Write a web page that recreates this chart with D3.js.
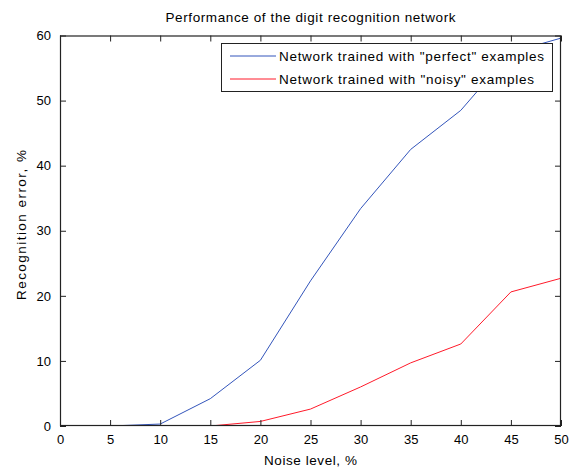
<!DOCTYPE html>
<html><head><meta charset="utf-8">
<script src="https://cdn.jsdelivr.net/npm/d3@7"></script>
<style>
html,body{margin:0;padding:0;background:#fff;}
text{font-family:"Liberation Sans",Arial,sans-serif;fill:#000;}
</style></head>
<body><svg id="c" width="573" height="469"></svg>
<script>
const title = "Performance of the digit recognition network";
const xLabel = "Noise level, %";
const yLabel = "Recognition error, %";
const noiseLevels = [0, 5, 10, 15, 20, 25, 30, 35, 40, 45, 50];
const perfectErr = [0, 0, 0.3, 4.2, 10.1, 22.3, 33.4, 42.5, 48.5, 57.4, 59.6];
const noisyErr   = [0, 0, 0, 0, 0.7, 2.6, 6.0, 9.7, 12.6, 20.6, 22.7];
const seriesNames = ['Network trained with "perfect" examples', 'Network trained with "noisy" examples'];
const seriesColors = ["#3355bb", "#ff1a2a"];
const xTicks = [0,5,10,15,20,25,30,35,40,45,50];
const yTicks = [0,10,20,30,40,50,60];

const svg = d3.select("#c");
const L = 60, R = 561, T = 35.5, B = 426;
const x = d3.scaleLinear().domain([0,50]).range([L,R]);
const y = d3.scaleLinear().domain([0,60]).range([B,T]);

const line = d3.line().x((d,i)=>x(noiseLevels[i])).y(d=>y(d));
svg.append("clipPath").attr("id","pc").append("rect")
  .attr("x",L).attr("y",T).attr("width",R-L).attr("height",B-T);
const g = svg.append("g").attr("clip-path","url(#pc)");
[perfectErr, noisyErr].forEach((s,k)=>{
  g.append("path").datum(s).attr("d",line).attr("fill","none")
   .attr("stroke",seriesColors[k]).attr("stroke-width",1);
});

const axC = "#222";
function styleAxis(sel){
  sel.select(".domain").remove();
  sel.selectAll("line").attr("stroke",axC);
  sel.selectAll("text").attr("font-size","13px").attr("fill","#000");
}
svg.append("g").attr("transform",`translate(0,${B})`)
  .call(d3.axisBottom(x).tickValues(xTicks).tickSizeInner(-6).tickSizeOuter(0).tickPadding(9))
  .call(styleAxis);
svg.append("g").attr("transform",`translate(0,${T})`)
  .call(d3.axisTop(x).tickValues(xTicks).tickSizeInner(-6).tickSizeOuter(0).tickFormat(""))
  .call(styleAxis);
svg.append("g").attr("transform",`translate(${L},0)`)
  .call(d3.axisLeft(y).tickValues(yTicks).tickSizeInner(-6).tickSizeOuter(0).tickPadding(9))
  .call(styleAxis);
svg.append("g").attr("transform",`translate(${R},0)`)
  .call(d3.axisRight(y).tickValues(yTicks).tickSizeInner(-6).tickSizeOuter(0).tickFormat(""))
  .call(styleAxis);
svg.append("rect").attr("x",L+0.5).attr("y",T+0.5).attr("width",R-L-1).attr("height",B-T-1)
  .attr("fill","none").attr("stroke",axC).attr("stroke-width",1.2);

svg.append("text").attr("x",(L+R)/2).attr("y",22).attr("text-anchor","middle")
  .attr("font-size","13.5px").attr("textLength",290).attr("lengthAdjust","spacing").text(title);
svg.append("text").attr("x",(L+R)/2).attr("y",465).attr("text-anchor","middle")
  .attr("font-size","13.5px").attr("textLength",93).attr("lengthAdjust","spacing").text(xLabel);
svg.append("text").attr("transform",`translate(26,225) rotate(-90)`).attr("text-anchor","middle")
  .attr("font-size","13.5px").attr("textLength",150).attr("lengthAdjust","spacing").text(yLabel);

// legend
const legendWidths = [265, 255];
const lg = svg.append("g");
lg.append("rect").attr("x",221.5).attr("y",43.5).attr("width",331).attr("height",48)
  .attr("fill","#fff").attr("stroke",axC).attr("stroke-width",1);
seriesNames.forEach((n,k)=>{
  const yy = 56 + k*23;
  lg.append("line").attr("x1",230).attr("x2",276).attr("y1",yy).attr("y2",yy)
    .attr("stroke",seriesColors[k]).attr("stroke-width",1);
  lg.append("text").attr("x",279).attr("y",yy+4.5).attr("font-size","13.5px")
    .attr("textLength",legendWidths[k]).attr("lengthAdjust","spacing").text(n);
});
</script></body></html>
